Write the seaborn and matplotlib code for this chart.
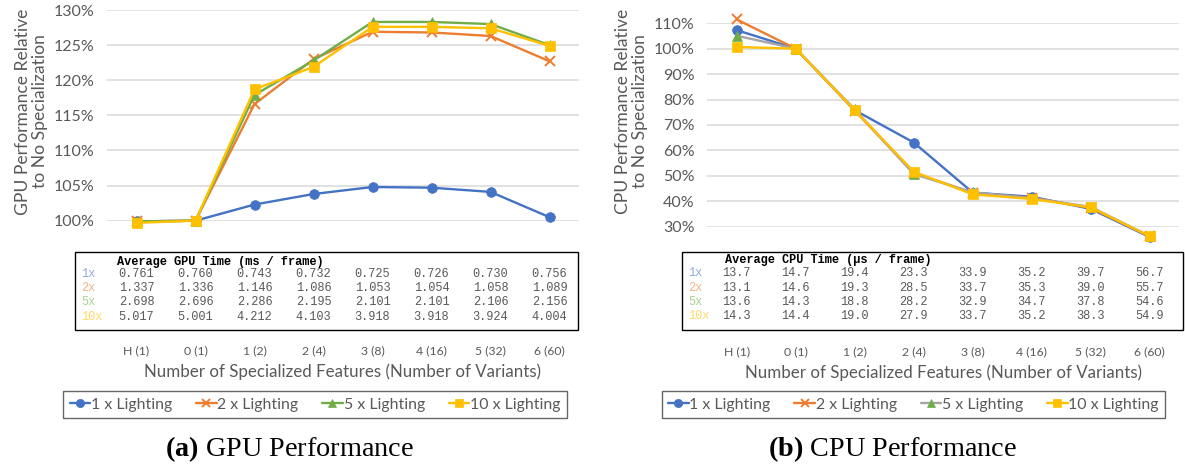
import matplotlib
matplotlib.use("Agg")
import matplotlib.pyplot as plt
import numpy as np
import pandas as pd
import seaborn as sns
from matplotlib.patches import Rectangle
from matplotlib.transforms import blended_transform_factory

# ---------------- data ----------------
categories = ["H (1)", "0 (1)", "1 (2)", "2 (4)", "3 (8)", "4 (16)", "5 (32)", "6 (60)"]
series_names = ["1 x Lighting", "2 x Lighting", "5 x Lighting", "10 x Lighting"]
row_labels = ["1x", "2x", "5x", "10x"]

# GPU performance relative to no specialization (%)
gpu_rel_1x = [99.9, 100.0, 102.3, 103.8, 104.8, 104.7, 104.1, 100.5]
gpu_rel_2x = [99.9, 100.0, 116.6, 123.0, 126.9, 126.8, 126.3, 122.7]
gpu_rel_5x = [99.9, 100.0, 117.9, 122.8, 128.3, 128.3, 128.0, 125.0]
gpu_rel_10x = [99.7, 100.0, 118.7, 121.9, 127.6, 127.6, 127.4, 124.9]

# Average GPU time (ms / frame)
gpu_time_1x = [0.761, 0.760, 0.743, 0.732, 0.725, 0.726, 0.730, 0.756]
gpu_time_2x = [1.337, 1.336, 1.146, 1.086, 1.053, 1.054, 1.058, 1.089]
gpu_time_5x = [2.698, 2.696, 2.286, 2.195, 2.101, 2.101, 2.106, 2.156]
gpu_time_10x = [5.017, 5.001, 4.212, 4.103, 3.918, 3.918, 3.924, 4.004]

# CPU performance relative to no specialization (%)
cpu_rel_1x = [107.3, 100.0, 75.8, 63.1, 43.4, 41.8, 37.0, 25.9]
cpu_rel_2x = [111.5, 100.0, 75.6, 51.2, 43.3, 41.4, 37.4, 26.2]
cpu_rel_5x = [105.1, 100.0, 76.1, 50.7, 43.5, 41.2, 37.8, 26.2]
cpu_rel_10x = [100.7, 100.0, 75.8, 51.6, 42.7, 40.9, 37.6, 26.2]

# Average CPU time (us / frame)
cpu_time_1x = [13.7, 14.7, 19.4, 23.3, 33.9, 35.2, 39.7, 56.7]
cpu_time_2x = [13.1, 14.6, 19.3, 28.5, 33.7, 35.3, 39.0, 55.7]
cpu_time_5x = [13.6, 14.3, 18.8, 28.2, 32.9, 34.7, 37.8, 54.6]
cpu_time_10x = [14.3, 14.4, 19.0, 27.9, 33.7, 35.2, 38.3, 54.9]

# ---------------- style ----------------
sns.set_theme(style="whitegrid")
plt.rcParams["font.family"] = ["Lato", "DejaVu Sans"]
plt.rcParams["mathtext.fontset"] = "custom"
plt.rcParams["mathtext.rm"] = "Liberation Serif"
plt.rcParams["mathtext.bf"] = "Liberation Serif:bold"

TXT = "#595959"
GRID = "#D9D9D9"
BLUE, ORANGE, GREEN, YELLOW, GREY = "#4472C4", "#ED7D31", "#70AD47", "#FFC000", "#A5A5A5"
marker_colors = [BLUE, ORANGE, GREEN, YELLOW]
label_colors = ["#8FAADC", "#F4B183", "#A9D18E", "#FFD966"]
markers = ["o", "x", "^", "s"]
msizes = [7, 7.5, 7, 7.5]

W, H = 1185, 467
fig = plt.figure(figsize=(W / 100, H / 100), dpi=100)
fig.patch.set_facecolor("white")


def fx(px):
    return px / W


def fy(py):
    return 1 - py / H


def panel(axbox, ylim, yticks, rels, times, fmt, header, line_colors, tablebox,
          label_x, header_x, header_y, rows_y, tick_pad, ylabel, ylabel_xy,
          legbox, caption, cap_x):
    l, t, r, b = axbox
    ax = fig.add_axes([fx(l), fy(b), fx(r) - fx(l), (b - t) / H])
    x = np.arange(len(categories))
    for i, name in enumerate(series_names):
        df = pd.DataFrame({"pos": x, "rel": rels[i]})
        sns.lineplot(data=df, x="pos", y="rel", ax=ax, label=name,
                     color=line_colors[i], marker=markers[i], markersize=msizes[i],
                     markerfacecolor=marker_colors[i], markeredgecolor=marker_colors[i],
                     markeredgewidth=1.4 if markers[i] == "x" else 0.5,
                     linewidth=1.7, sort=False, zorder=3 + i)
    for ln in ax.lines:
        ln.set_clip_on(False)
    ax.set_xlim(-0.5, len(categories) - 0.5)
    ax.set_ylim(*ylim)
    ax.set_yticks(yticks)
    ax.set_yticklabels([f"{v:.0f}%" for v in yticks])
    ax.set_xticks(x)
    ax.set_xticklabels(categories)
    ax.grid(axis="x", visible=False)
    ax.grid(axis="y", color=GRID, linewidth=1.1)
    for s in ax.spines.values():
        s.set_visible(False)
    ax.tick_params(axis="y", labelsize=11.5, colors=TXT, pad=9, length=0)
    ax.tick_params(axis="x", labelsize=8.8, colors=TXT, pad=tick_pad, length=0)
    ax.set_xlabel("Number of Specialized Features (Number of Variants)",
                  fontsize=12.2, color=TXT, labelpad=5)
    ax.set_ylabel(ylabel, fontsize=12.6, color=TXT, linespacing=1.1)
    ax.yaxis.set_label_coords(*ylabel_xy)
    ax.set_facecolor("none")

    # table box
    tl, tt, tr, tb = tablebox
    fig.add_artist(Rectangle((fx(tl), fy(tb)), fx(tr) - fx(tl), (tb - tt) / H,
                             transform=fig.transFigure, fill=False,
                             edgecolor="#000000", linewidth=1.0))
    mono = "Liberation Mono"
    fig.text(fx(header_x), fy(header_y), header, family=mono, fontweight="bold",
             fontsize=8.6, color="#000000", va="center", ha="left")
    trans = blended_transform_factory(ax.transData, fig.transFigure)
    for i, lab in enumerate(row_labels):
        fig.text(fx(label_x), fy(rows_y[i]), lab, family=mono, fontsize=8.6,
                 color=label_colors[i], va="center", ha="left")
        for j, v in enumerate(times[i]):
            ax.text(j, fy(rows_y[i]), fmt.format(v), transform=trans, family=mono,
                    fontsize=8.6, color=TXT, va="center", ha="center")

    # legend
    ll, lt, lr, lb = legbox
    leg = ax.legend(loc="center",
                    bbox_to_anchor=(fx(ll), fy(lb), fx(lr) - fx(ll), (lb - lt) / H),
                    bbox_transform=fig.transFigure, ncol=4, frameon=True, fancybox=False,
                    edgecolor="#404040", fontsize=11.4, handlelength=1.3,
                    handletextpad=0.05, columnspacing=1.5, borderpad=0.4,
                    labelcolor=TXT, markerscale=0.85)
    leg.get_frame().set_linewidth(1.0)

    fig.text(fx(cap_x), fy(449), caption, fontsize=20.3, ha="center", va="center",
             color="#000000", family="Liberation Serif")
    return ax


panel((107, 10, 579, 220.7), (100, 130), list(range(100, 131, 5)),
      [gpu_rel_1x, gpu_rel_2x, gpu_rel_5x, gpu_rel_10x],
      [gpu_time_1x, gpu_time_2x, gpu_time_5x, gpu_time_10x], "{:.3f}",
      "Average GPU Time (ms / frame)", [BLUE, ORANGE, GREEN, YELLOW],
      (75, 252, 578, 330), 81.5, 117.3, 262, [274, 288.3, 302.3, 316.7], 90,
      "GPU Performance Relative\nto No Specialization", (-0.125, 0.518),
      (60, 389, 570, 420), r"$\mathbf{(a)}$ GPU Performance", 289.5)

panel((707.3, 23.3, 1179.3, 226.7), (30, 110), list(range(30, 111, 10)),
      [cpu_rel_1x, cpu_rel_2x, cpu_rel_5x, cpu_rel_10x],
      [cpu_time_1x, cpu_time_2x, cpu_time_5x, cpu_time_10x], "{:.1f}",
      "Average CPU Time (\u03bcs / frame)", [BLUE, ORANGE, GREY, YELLOW],
      (682, 252, 1183, 330), 688, 725, 260.5, [273.3, 287.7, 301.7, 315.7], 86,
      "CPU Performance Relative\nto No Specialization", (-0.126, 0.569),
      (655, 389, 1172, 420), r"$\mathbf{(b)}$ CPU Performance", 892.5)

fig.savefig("out.png", dpi=100, facecolor="white")
